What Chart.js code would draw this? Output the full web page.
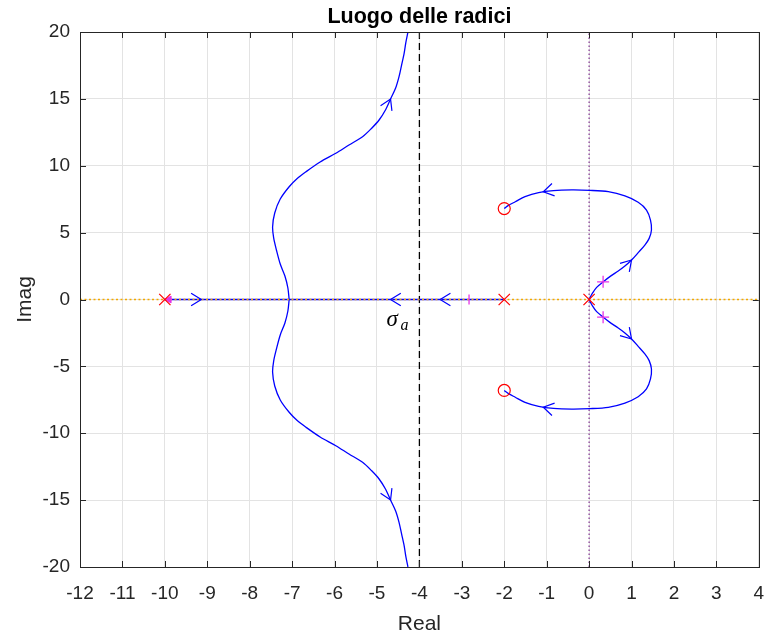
<!DOCTYPE html>
<html>
<head>
<meta charset="utf-8">
<script src="https://cdn.jsdelivr.net/npm/chart.js@4.4.0/dist/chart.umd.min.js"></script>
<style>
  html, body { margin: 0; padding: 0; background: #fff; }
  #wrap { width: 768px; height: 637px; }
</style>
</head>
<body>
<div id="wrap"><canvas id="rootLocus" width="768" height="637"></canvas></div>
<script>
// Axis ranges
const xMin = -12, xMax = 4, xStep = 1;
const yMin = -20, yMax = 20, yStep = 5;

// Open-loop poles (x) and zeros (o)
const poleRe = [-10, -2, 0];
const poleIm = [0, 0, 0];
const zeroRe = [-2, -2];
const zeroIm = [6.8, -6.8];

// Branches lying on the real axis
const realLeftRe = [-10, -7.07];
const realRightRe = [-2, -7.07];
const realIm = [0, 0];

// Branch from the breakaway point up to +j infinity
const upLeftRe = [-7.07, -7.10, -7.17, -7.28, -7.37, -7.435, -7.46, -7.41, -7.28, -7.07, -6.88, -6.67, -6.34, -5.97, -5.66, -5.34, -5.13, -4.95, -4.80, -4.68, -4.56, -4.48, -4.42, -4.36, -4.32, -4.27];
const upLeftIm = [0, 0.86, 1.76, 2.65, 3.70, 4.60, 5.44, 6.47, 7.51, 8.43, 9.05, 9.56, 10.28, 10.93, 11.55, 12.17, 12.79, 13.42, 14.17, 14.99, 15.81, 16.66, 17.53, 18.41, 19.21, 20];
// ...and its mirror down to -j infinity
const lowLeftRe = [-7.07, -7.10, -7.17, -7.28, -7.37, -7.435, -7.46, -7.41, -7.28, -7.07, -6.88, -6.67, -6.34, -5.97, -5.66, -5.34, -5.13, -4.95, -4.80, -4.68, -4.56, -4.48, -4.42, -4.36, -4.32, -4.27];
const lowLeftIm = [0, -0.86, -1.76, -2.65, -3.70, -4.60, -5.44, -6.47, -7.51, -8.43, -9.05, -9.56, -10.28, -10.93, -11.55, -12.17, -12.79, -13.42, -14.17, -14.99, -15.81, -16.66, -17.53, -18.41, -19.21, -20];

// Branches from the double pole at 0 to the complex zeros
const upRightRe = [0, 0.076, 0.178, 0.335, 0.49, 0.687, 0.844, 1.0, 1.157, 1.314, 1.416, 1.47, 1.447, 1.353, 1.157, 0.844, 0.452, 0.02, -0.41, -0.84, -1.19, -1.51, -1.74, -1.90, -2];
const upRightIm = [0, 0.46, 0.91, 1.33, 1.71, 2.13, 2.50, 2.95, 3.50, 4.07, 4.57, 5.20, 5.94, 6.69, 7.27, 7.74, 8.06, 8.16, 8.19, 8.14, 7.99, 7.69, 7.31, 7.04, 6.8];
const lowRightRe = [0, 0.076, 0.178, 0.335, 0.49, 0.687, 0.844, 1.0, 1.157, 1.314, 1.416, 1.47, 1.447, 1.353, 1.157, 0.844, 0.452, 0.02, -0.41, -0.84, -1.19, -1.51, -1.74, -1.90, -2];
const lowRightIm = [0, -0.46, -0.91, -1.33, -1.71, -2.13, -2.50, -2.95, -3.50, -4.07, -4.57, -5.20, -5.94, -6.69, -7.27, -7.74, -8.06, -8.16, -8.19, -8.14, -7.99, -7.69, -7.31, -7.04, -6.8];

// Magenta gain markers
const plusRe = [0.33, 0.33];
const plusIm = [1.32, -1.32];
const barRe = [-2.83];
const barIm = [0];
const triRe = [-9.9];
const triIm = [0];

// Asymptote centroid and guide lines
const sigmaA = -4;
const guideSpan = [-20, 20];
const realSpan = [-12, 4];

// Direction arrows: position and a point further along the branch
const arrowRe = [-9.14, -4.68, -3.51, -4.68, -4.68, 1.0, 1.0, -1.08, -1.08];
const arrowIm = [0, 0, 0, 14.99, -14.99, 2.95, -2.95, 8.05, -8.05];
const arrowToRe = [-9.0, -4.9, -3.7, -4.56, -4.56, 1.157, 1.157, -1.3, -1.3];
const arrowToIm = [0, 0, 0, 15.81, -15.81, 3.50, -3.50, 7.9, -7.9];

const fontFamily = '"Liberation Sans", Arial, Helvetica, sans-serif';
const textColor = '#262626';

function pts(xs, ys) {
    return xs.map((x, i) => ({ x: x, y: ys[i] }));
}

function branch(xs, ys) {
    return {
        data: pts(xs, ys),
        showLine: true,
        borderColor: '#0000ff',
        borderWidth: 1.3,
        pointRadius: 0,
        tension: 0.3
    };
}

// Box, inward ticks, arrows and texts
const extrasPlugin = {
    id: 'extras',
    afterDatasetsDraw(chart) {
        const c = chart.ctx;
        const a = chart.chartArea;
        const sx = chart.scales.x;
        const sy = chart.scales.y;
        c.save();

        // arrow heads
        c.strokeStyle = '#0000ff';
        c.lineWidth = 1.2;
        for (let i = 0; i < arrowRe.length; i++) {
            const px = sx.getPixelForValue(arrowRe[i]);
            const py = sy.getPixelForValue(arrowIm[i]);
            const qx = sx.getPixelForValue(arrowToRe[i]);
            const qy = sy.getPixelForValue(arrowToIm[i]);
            const ang = Math.atan2(qy - py, qx - px);
            const len = 12, spread = 0.55;
            c.beginPath();
            c.moveTo(px - len * Math.cos(ang - spread), py - len * Math.sin(ang - spread));
            c.lineTo(px, py);
            c.lineTo(px - len * Math.cos(ang + spread), py - len * Math.sin(ang + spread));
            c.stroke();
        }

        // box around the plot
        c.strokeStyle = textColor;
        c.lineWidth = 1;
        c.strokeRect(Math.round(a.left) + 0.5, Math.round(a.top) + 0.5,
            Math.round(a.right - a.left), Math.round(a.bottom - a.top));

        // inward tick marks
        const tl = 6;
        c.beginPath();
        sx.ticks.forEach(t => {
            const x = Math.round(sx.getPixelForValue(t.value)) + 0.5;
            c.moveTo(x, a.bottom); c.lineTo(x, a.bottom - tl);
            c.moveTo(x, a.top); c.lineTo(x, a.top + tl);
        });
        sy.ticks.forEach(t => {
            const y = Math.round(sy.getPixelForValue(t.value)) + 0.5;
            c.moveTo(a.left, y); c.lineTo(a.left + tl, y);
            c.moveTo(a.right, y); c.lineTo(a.right - tl, y);
        });
        c.stroke();

        // sigma_a label next to the asymptote
        c.fillStyle = '#000';
        c.textAlign = 'left';
        c.textBaseline = 'alphabetic';
        const lx = sx.getPixelForValue(sigmaA) - 33;
        const ly = sy.getPixelForValue(0) + 26;
        c.font = 'italic 23px "Liberation Serif", "DejaVu Serif", serif';
        c.fillText('\u03c3', lx, ly);
        c.font = 'italic 16px "Liberation Serif", "DejaVu Serif", serif';
        c.fillText('a', lx + 14, ly + 4);

        // title and axis labels
        c.fillStyle = '#000';
        c.textAlign = 'center';
        c.font = 'bold 21.5px ' + fontFamily;
        c.fillText('Luogo delle radici', (a.left + a.right) / 2, 23);
        c.fillStyle = textColor;
        c.font = '21px ' + fontFamily;
        c.fillText('Real', (a.left + a.right) / 2, 630);
        c.translate(31, (a.top + a.bottom) / 2);
        c.rotate(-Math.PI / 2);
        c.fillText('Imag', 0, 0);
        c.restore();
    }
};

const ctx = document.getElementById('rootLocus').getContext('2d');

new Chart(ctx, {
    type: 'scatter',
    data: {
        datasets: [
            // markers (first = drawn on top)
            { data: pts(poleRe, poleIm), pointStyle: 'crossRot', pointRadius: 8, borderColor: '#ff0000', borderWidth: 1.2, backgroundColor: 'transparent' },
            { data: pts(zeroRe, zeroIm), pointStyle: 'circle', pointRadius: 6, borderColor: '#ff0000', borderWidth: 1.2, backgroundColor: 'transparent' },
            { data: pts(plusRe, plusIm), pointStyle: 'cross', pointRadius: 6, borderColor: '#e633e6', borderWidth: 1.3, backgroundColor: 'transparent' },
            { data: pts(barRe, barIm), pointStyle: 'line', pointRotation: 90, pointRadius: 5, borderColor: '#e633e6', borderWidth: 1.3 },
            { data: pts(triRe, triIm), pointStyle: 'triangle', pointRotation: -90, pointRadius: 4, borderColor: '#e633e6', backgroundColor: '#e633e6', borderWidth: 1 },
            // real axis dotted line
            { data: pts(realSpan, [0, 0]), showLine: true, borderColor: '#f2a900', borderWidth: 1.6, borderDash: [2, 2.5], pointRadius: 0 },
            // locus branches
            branch(realLeftRe, realIm),
            branch(realRightRe, realIm),
            branch(upLeftRe, upLeftIm),
            branch(lowLeftRe, lowLeftIm),
            branch(upRightRe, upRightIm),
            branch(lowRightRe, lowRightIm),
            // asymptote and imaginary axis
            { data: pts([sigmaA, sigmaA], guideSpan), showLine: true, borderColor: '#000000', borderWidth: 1.3, borderDash: [7, 4], pointRadius: 0 },
            { data: pts([0, 0], guideSpan), showLine: true, borderColor: '#7e2f8e', borderWidth: 1.2, borderDash: [1.5, 2.5], pointRadius: 0 }
        ]
    },
    options: {
        responsive: false,
        animation: false,
        devicePixelRatio: 1,
        layout: { padding: { left: 0, right: 7, top: 32, bottom: 0 } },
        plugins: {
            legend: { display: false },
            tooltip: { enabled: false },
            title: { display: false }
        },
        scales: {
            x: {
                type: 'linear',
                min: xMin,
                max: xMax,
                ticks: { stepSize: xStep, autoSkip: false, maxRotation: 0, color: textColor, padding: 15, font: { family: fontFamily, size: 19 } },
                grid: { color: '#e3e3e3', drawTicks: false },
                border: { display: false },
                afterFit: s => { s.height = 70; s.paddingLeft = 0; s.paddingRight = 0; }
            },
            y: {
                type: 'linear',
                min: yMin,
                max: yMax,
                ticks: { stepSize: yStep, color: textColor, padding: 10, font: { family: fontFamily, size: 19 } },
                grid: { color: '#e3e3e3', drawTicks: false },
                border: { display: false },
                afterFit: s => { s.width = 80; s.paddingTop = 0; s.paddingBottom = 0; }
            }
        }
    },
    plugins: [extrasPlugin]
});
</script>
</body>
</html>
